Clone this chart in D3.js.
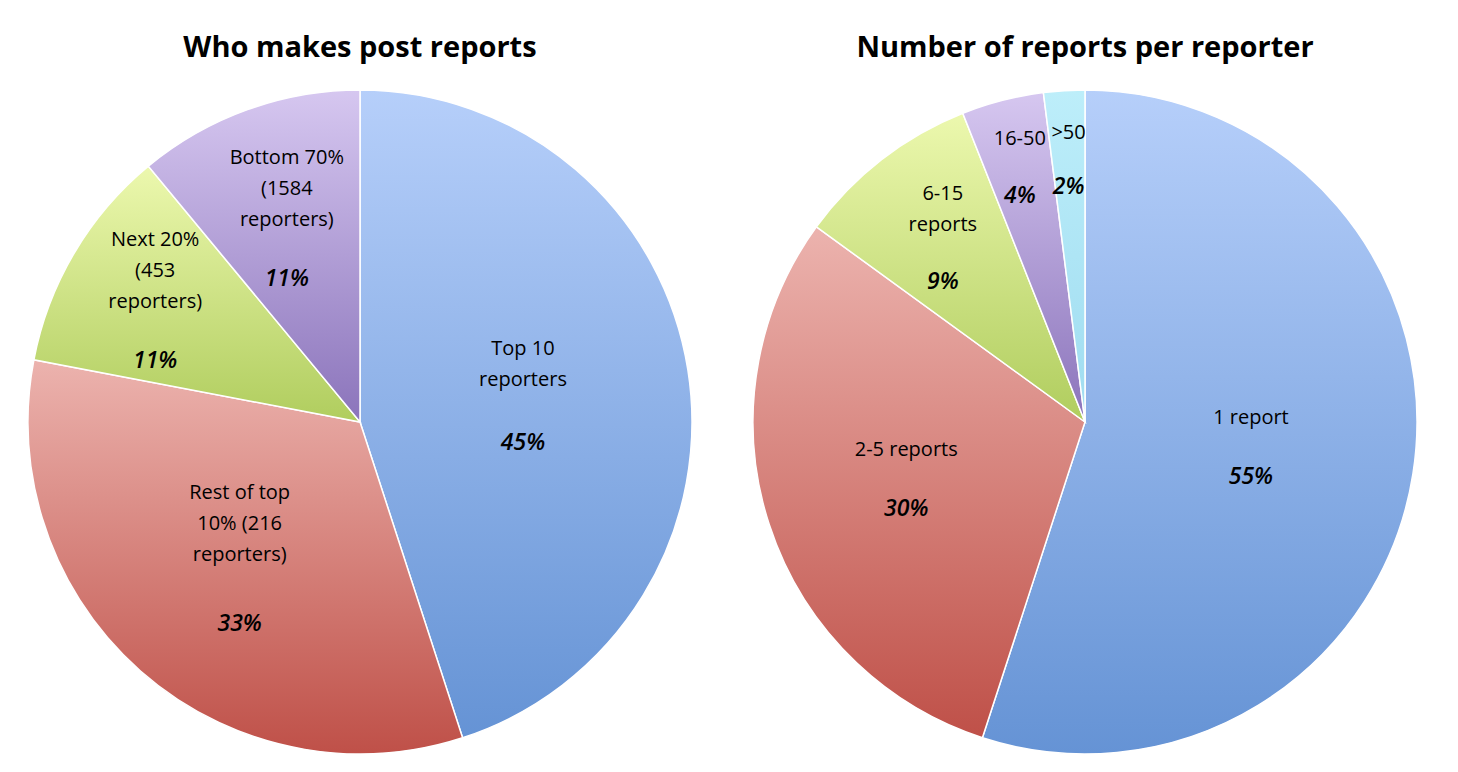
<!DOCTYPE html>
<html><head><meta charset="utf-8">
<script src="https://cdn.jsdelivr.net/npm/d3@7"></script>
<style>body{margin:0;background:#fff}text{font-family:"Open Sans",sans-serif}</style>
</head><body><svg id="c" width="1458" height="772"></svg>
<script>
const leftTitle = "Who makes post reports";
const leftLabels = [["Top 10","reporters"],["Rest of top","10% (216","reporters)"],["Next 20%","(453","reporters)"],["Bottom 70%","(1584","reporters)"]];
const leftValues = [45, 33, 11, 11];
const rightTitle = "Number of reports per reporter";
const rightLabels = [["1 report"],["2-5 reports"],["6-15","reports"],["16-50"],[">50"]];
const rightValues = [55, 30, 9, 4, 2];
const palette = [["#b6cffa","#6593d5"],["#ecb3ae","#bf5048"],["#ecf8ae","#b0cd5e"],["#d6c7f0","#8b74bb"],["#bdeefa","#9fdcf0"]];

const svg = d3.select("#c");
const defs = svg.append("defs");
palette.forEach((c,i)=>{
  const g = defs.append("linearGradient").attr("id","g"+i).attr("x1",0).attr("y1",0).attr("x2",0).attr("y2",1);
  g.append("stop").attr("offset",0).attr("stop-color",c[0]);
  g.append("stop").attr("offset",1).attr("stop-color",c[1]);
});

function pie(cx, cy, r, title, labels, values, labelR, pctGap){
  svg.append("text").attr("x",cx).attr("y",57).attr("text-anchor","middle")
    .attr("font-size",29).attr("font-weight","bold").text(title);
  const g = svg.append("g").attr("transform",`translate(${cx},${cy})`);
  const arcs = d3.pie().sort(null).value(d=>d)(values);
  const arc = d3.arc().innerRadius(0).outerRadius(r);
  g.selectAll("path").data(arcs).enter().append("path")
    .attr("d",arc).attr("fill",(d,i)=>`url(#g${i})`).attr("stroke","#fff").attr("stroke-width",1.5);
  arcs.forEach((d,i)=>{
    const a = (d.startAngle+d.endAngle)/2, rr = labelR[i];
    const x = Math.sin(a)*rr, y = -Math.cos(a)*rr;
    const lines = labels[i], lh = 31;
    const total = lines.length*lh + pctGap[i];
    let y0 = y - total/2 + lh*0.7;
    lines.forEach((t,k)=>g.append("text").attr("x",x).attr("y",y0+k*lh).attr("text-anchor","middle")
      .attr("font-size",20).text(t));
    g.append("text").attr("x",x).attr("y",y0+(lines.length-1)*lh+pctGap[i]).attr("text-anchor","middle")
      .attr("font-size",23).attr("font-style","italic").attr("font-weight",600).text(values[i]+"%");
  });
}
pie(360, 422, 332, leftTitle, leftLabels, leftValues, [165,182,238,216], [64,70,60,60]);
pie(1085, 422, 332, rightTitle, rightLabels, rightValues, [168,188,232,262,262], [60,60,58,58,55]);
</script></body></html>
